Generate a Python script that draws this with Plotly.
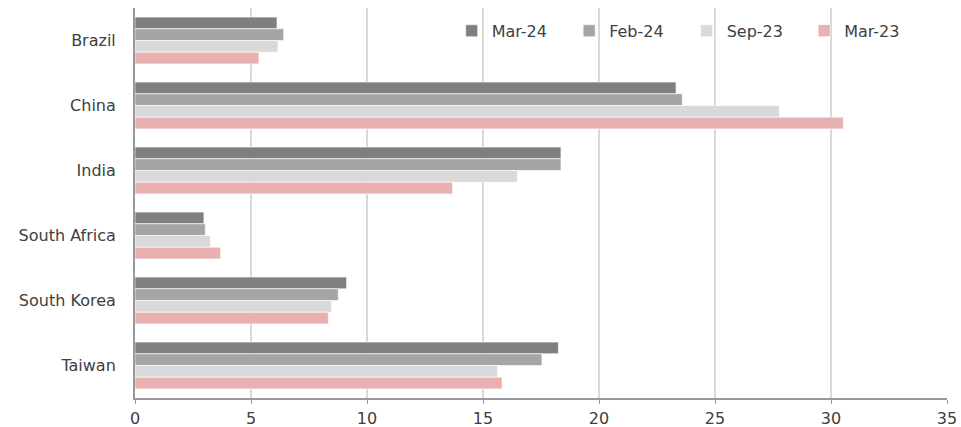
import plotly.graph_objects as go

categories = ["Brazil", "China", "India", "South Africa", "South Korea", "Taiwan"]
series_names = ["Mar-24", "Feb-24", "Sep-23", "Mar-23"]
mar24 = [6.12, 23.32, 18.36, 2.97, 9.12, 18.25]
feb24 = [6.41, 23.59, 18.36, 3.03, 8.76, 17.54]
sep23 = [6.16, 27.77, 16.48, 3.25, 8.47, 15.63]
mar23 = [5.34, 30.53, 13.69, 3.69, 8.33, 15.82]
x_ticks = [0, 5, 10, 15, 20, 25, 30, 35]

colors = ["#7f7f7f", "#a5a5a5", "#d9d9d9", "#e8b0b1"]
values = [mar24, feb24, sep23, mar23]

fig = go.Figure()
for name, vals, col in zip(series_names, values, colors):
    fig.add_trace(go.Bar(
        y=categories, x=vals, name=name, orientation="h",
        marker=dict(color=col, line=dict(color="white", width=0.6)),
    ))

fig.update_layout(
    width=961, height=427,
    margin=dict(l=135, r=14, t=8, b=29),
    barmode="group", bargap=0.28, bargroupgap=0,
    plot_bgcolor="white", paper_bgcolor="white",
    font=dict(family="DejaVu Sans, sans-serif", size=16, color="#404040"),
    legend=dict(orientation="h", x=0.39, xanchor="left", y=0.985, yanchor="top",
                bgcolor="rgba(0,0,0,0)", font=dict(size=16, color="#404040"),
                itemwidth=30, entrywidth=72.5, entrywidthmode="pixels"),
    showlegend=True,
)
fig.update_xaxes(
    range=[0, 35], tickvals=x_ticks, showgrid=True, gridcolor="#d9d9d9", gridwidth=1.5,
    showline=True, linecolor="#999999", linewidth=1.5, ticks="outside", ticklen=4,
    tickcolor="#999999", zeroline=False, tickfont=dict(size=16, color="#404040"),
    ticklabelstandoff=1, automargin=False,
)
fig.update_yaxes(
    autorange="reversed", showline=True, linecolor="#999999", linewidth=2,
    showgrid=False, ticks="", ticklabelstandoff=14, automargin=False,
    tickfont=dict(size=16, color="#404040"),
)

fig.write_html("out.html")
